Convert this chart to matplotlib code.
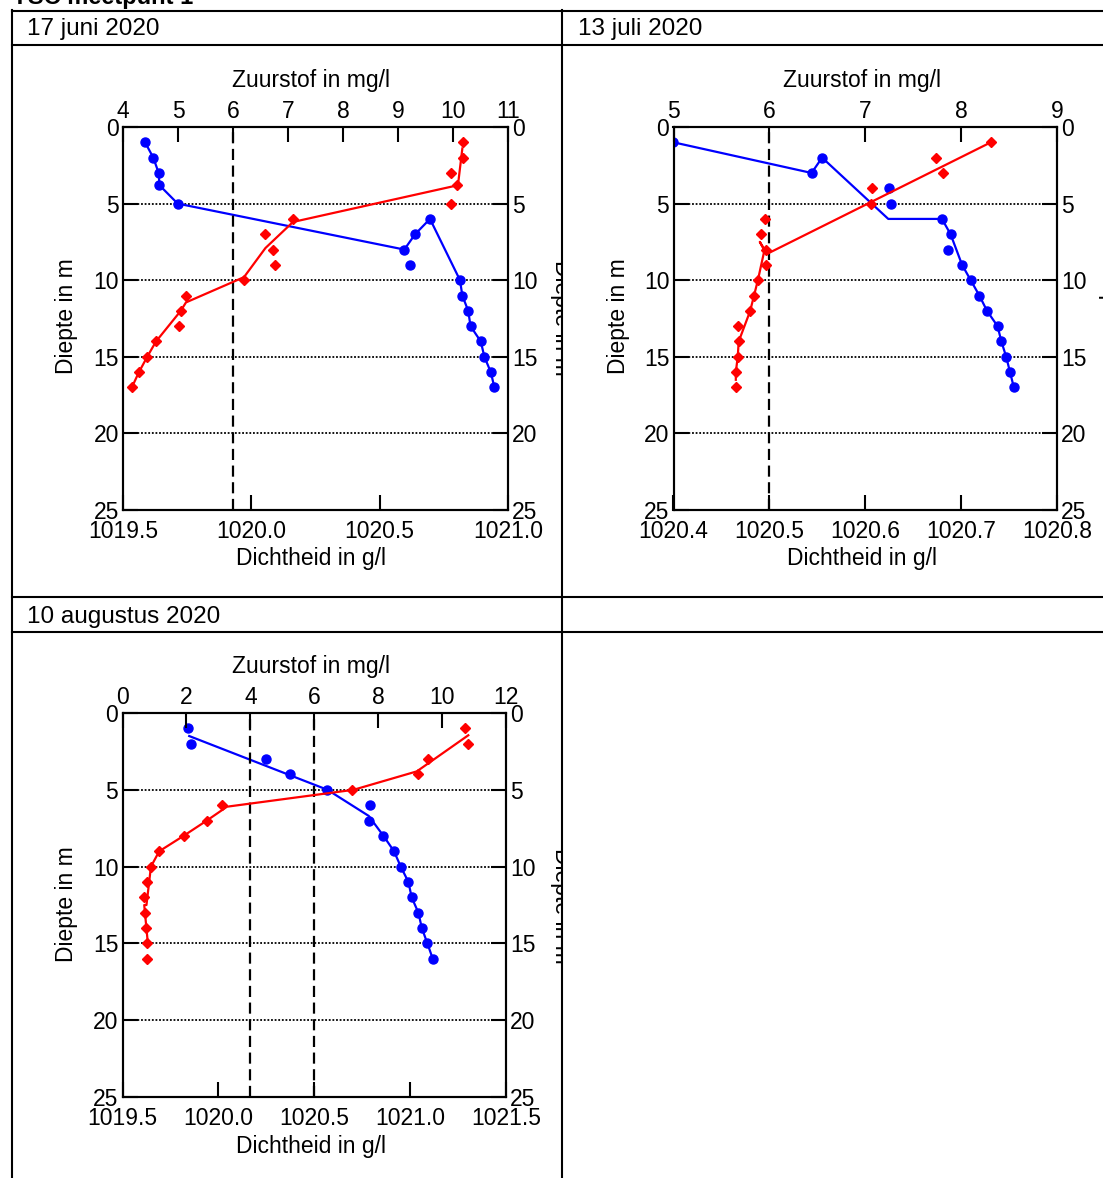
import matplotlib
matplotlib.use('Agg')
import matplotlib.pyplot as plt
from matplotlib.lines import Line2D
from matplotlib.transforms import Bbox, TransformedBbox

W, H = 1103, 1178
plt.rcParams['font.family'] = ['Liberation Sans', 'DejaVu Sans']

# ---------------- data ----------------
titles = ["17 juni 2020", "13 juli 2020", "10 augustus 2020"]

# Panel 1 (17 juni 2020)
p1_depth = [1, 2, 3, 3.8, 5, 6, 7, 8, 9, 10, 11, 12, 13, 14, 15, 16, 17]
p1_density = [1019.586, 1019.618, 1019.639, 1019.642, 1019.713, 1020.696, 1020.638, 1020.596,
              1020.618, 1020.813, 1020.822, 1020.845, 1020.854, 1020.894, 1020.908, 1020.933, 1020.947]
p1_oxygen = [10.18, 10.18, 9.96, 10.07, 9.96, 7.09, 6.59, 6.72, 6.76, 6.20, 5.15, 5.05, 5.01,
             4.60, 4.44, 4.29, 4.16]
p1_dens_line_depth = [1, 2, 3, 3.8, 5, 8, 7, 6, 10, 11, 12, 13, 14, 15, 16, 17]
p1_dens_line = [1019.586, 1019.618, 1019.639, 1019.642, 1019.713, 1020.596, 1020.638, 1020.696,
                1020.813, 1020.822, 1020.845, 1020.854, 1020.894, 1020.908, 1020.933, 1020.947]
p1_ox_line_depth = [1.4, 3.8, 6.2, 7.9, 9.8, 11.45, 12, 14, 15, 16, 17]
p1_ox_line = [10.17, 10.09, 7.09, 6.59, 6.20, 5.145, 5.05, 4.60, 4.44, 4.29, 4.16]

# Panel 2 (13 juli 2020)
p2_depth = [1, 2, 3, 4, 5, 6, 7, 8, 9, 10, 11, 12, 13, 14, 15, 16, 17]
p2_density = [1020.400, 1020.555, 1020.544, 1020.625, 1020.627, 1020.680, 1020.689, 1020.686,
              1020.701, 1020.710, 1020.719, 1020.727, 1020.738, 1020.742, 1020.747, 1020.751, 1020.755]
p2_oxygen = [8.31, 7.74, 7.81, 7.07, 7.06, 5.95, 5.91, 5.96, 5.97, 5.88, 5.84, 5.80, 5.67,
             5.68, 5.67, 5.65, 5.65]
p2_dens_line_depth = [1, 3, 2, 6, 6, 7, 9, 10, 11, 12, 13, 14, 15, 16, 17]
p2_dens_line = [1020.400, 1020.544, 1020.555, 1020.624, 1020.680, 1020.689, 1020.701, 1020.710,
                1020.719, 1020.727, 1020.738, 1020.742, 1020.747, 1020.751, 1020.755]
p2_ox_line_depth = [1, 8.3, 7.5, 8.0, 10, 11, 12, 14, 15, 16, 16.5]
p2_ox_line = [8.31, 5.97, 5.90, 5.95, 5.88, 5.84, 5.80, 5.68, 5.67, 5.65, 5.65]

# Panel 3 (10 augustus 2020)
p3_depth = [1, 2, 3, 4, 5, 6, 7, 8, 9, 10, 11, 12, 13, 14, 15, 16]
p3_density = [1019.841, 1019.856, 1020.249, 1020.374, 1020.569, 1020.791, 1020.784, 1020.861,
              1020.916, 1020.951, 1020.991, 1021.008, 1021.043, 1021.061, 1021.090, 1021.118]
p3_oxygen = [10.72, 10.80, 9.55, 9.24, 7.17, 3.11, 2.64, 1.91, 1.15, 0.89, 0.76, 0.68, 0.69,
             0.73, 0.76, 0.76]
p3_dens_line_depth = [1.5, 5, 6.7, 8, 9, 10, 11, 12, 13, 14, 15, 16]
p3_dens_line = [1019.848, 1020.569, 1020.784, 1020.861, 1020.916, 1020.951, 1020.991, 1021.008,
                1021.043, 1021.061, 1021.090, 1021.118]
p3_ox_line_depth = [1.45, 3.8, 5, 6.1, 7, 8, 9, 10, 12.5, 12.5, 14.7]
p3_ox_line = [10.82, 9.21, 7.23, 3.27, 2.64, 1.91, 1.15, 0.89, 0.75, 0.68, 0.78]

depth_ticks = [0, 5, 10, 15, 20, 25]

# ---------------- figure ----------------
fig = plt.figure(figsize=(W / 100, H / 100), dpi=100)


def fx(px):
    return px / W


def fy(py):
    return 1 - py / H


BLUE = '#0000ff'
RED = '#ff0000'
FS_TICK = 16.5
FS_LAB = 16.5


def panel(l, r, t, b, dlim, dticks, olim, oticks, dashed,
          depth, dens, ox, dl_depth, dl, ol_depth, ol, cx):
    ax = fig.add_axes([fx(l), fy(b), fx(r - l), (b - t) / H])
    ax.set_xlim(dlim)
    ax.set_ylim(25, 0)
    ax.set_xticks(dticks)
    ax.set_xticklabels([f"{v:.1f}" for v in dticks])
    ax.set_yticks(depth_ticks)
    ax.tick_params(axis='x', direction='in', length=11, width=1.5, top=False,
                   labelsize=FS_TICK, pad=7)
    ax.tick_params(axis='y', direction='in', length=11, width=1.5, left=True, right=True,
                   labelleft=True, labelright=True, labelsize=FS_TICK, pad=3)
    for s in ax.spines.values():
        s.set_linewidth(1.5)
    for d in [5, 10, 15, 20, 25]:
        ax.axhline(d, color='black', lw=1.3, ls=(0, (1, 1)), zorder=1)
    ax.plot(dl, dl_depth, color=BLUE, lw=1.6, zorder=3)
    ax.plot(dens, depth, 'o', color=BLUE, ms=6.5, zorder=4)

    ax2 = ax.twiny()
    ax2.set_xlim(olim)
    ax2.set_xticks(oticks)
    ax2.tick_params(axis='x', direction='in', length=11, width=1.5,
                    labelsize=FS_TICK, pad=3)
    for s in ax2.spines.values():
        s.set_linewidth(1.5)
    for v in dashed:
        ax2.axvline(v, color='black', lw=1.6, ls=(0, (5, 2.5)), zorder=2)
    ax2.plot(ol, ol_depth, color=RED, lw=1.6, zorder=3)
    ax2.plot(ox, depth, 'D', color=RED, ms=5.5, zorder=4)

    fig.text(fx(cx), fy(t - 47), "Zuurstof in mg/l", ha='center', va='center', fontsize=FS_LAB)
    fig.text(fx(cx), fy(b + 49), "Dichtheid in g/l", ha='center', va='center', fontsize=FS_LAB)
    return ax


panel(123, 508, 127, 510, (1019.5, 1021.0), [1019.5, 1020.0, 1020.5, 1021.0],
      (4, 11), list(range(4, 12)), [6],
      p1_depth, p1_density, p1_oxygen, p1_dens_line_depth, p1_dens_line,
      p1_ox_line_depth, p1_ox_line, 311)
panel(673.5, 1057, 127, 510, (1020.4, 1020.8), [1020.4, 1020.5, 1020.6, 1020.7, 1020.8],
      (5, 9), list(range(5, 10)), [6],
      p2_depth, p2_density, p2_oxygen, p2_dens_line_depth, p2_dens_line,
      p2_ox_line_depth, p2_ox_line, 862)
panel(122.5, 506, 713, 1097, (1019.5, 1021.5), [1019.5, 1020.0, 1020.5, 1021.0, 1021.5],
      (0, 12), list(range(0, 13, 2)), [4, 6],
      p3_depth, p3_density, p3_oxygen, p3_dens_line_depth, p3_dens_line,
      p3_ox_line_depth, p3_ox_line, 311)

# y labels
fig.text(fx(67), fy(316), "Diepte in m", rotation=90, ha='center', va='center', fontsize=FS_LAB)
fig.text(fx(619), fy(316), "Diepte in m", rotation=90, ha='center', va='center', fontsize=FS_LAB)
fig.text(fx(67), fy(904), "Diepte in m", rotation=90, ha='center', va='center', fontsize=FS_LAB)

clip_left_col = TransformedBbox(Bbox([[0, 0], [fx(562), 1]]), fig.transFigure)
for (x, y) in [(550, 318), (550, 906)]:
    tt = fig.text(fx(x), fy(y), "Diepte in m", rotation=270, ha='left', va='center',
                  fontsize=FS_LAB)
    tt.set_clip_box(clip_left_col)
    tt.set_clip_on(True)
fig.text(fx(1098), fy(318), "Diepte in m", rotation=270, ha='left', va='center', fontsize=FS_LAB)

# table structure
def hline(y, x0=12, x1=W):
    fig.add_artist(Line2D([fx(x0), fx(x1)], [fy(y), fy(y)], color='black', lw=1.5))


def vline(x, y0=10, y1=H):
    fig.add_artist(Line2D([fx(x), fx(x)], [fy(y0), fy(y1)], color='black', lw=1.5))


for y in [10.5, 45, 597, 632]:
    hline(y)
for x in [12, 562]:
    vline(x)

fig.text(fx(12), fy(4), "YSC meetpunt 1", fontsize=17, fontweight='bold', ha='left', va='baseline')
fig.text(fx(27), fy(29), titles[0], fontsize=17.5, ha='left', va='center')
fig.text(fx(578), fy(29), titles[1], fontsize=17.5, ha='left', va='center')
fig.text(fx(27), fy(617), titles[2], fontsize=17.5, ha='left', va='center')

fig.savefig('out.png', dpi=100)
